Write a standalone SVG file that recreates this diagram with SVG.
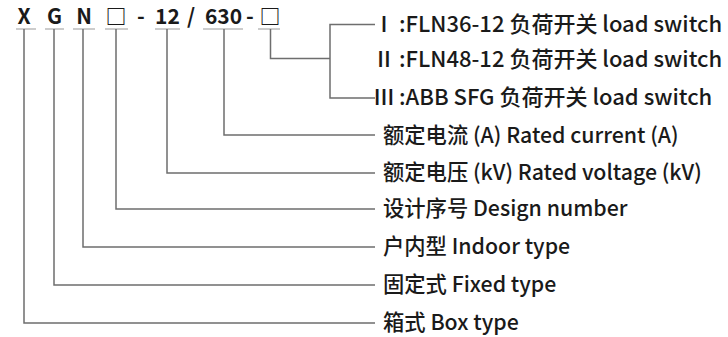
<svg xmlns="http://www.w3.org/2000/svg" width="728" height="337" viewBox="0 0 728 337">
<style>
.code{font-family:"Noto Sans CJK SC","Noto Sans",sans-serif;font-size:21px;font-weight:bold;fill:#1a1a1a;text-anchor:middle}
.lbl{font-family:"Noto Sans CJK SC","Noto Sans",sans-serif;font-size:22px;font-weight:500;fill:#1a1a1a}
.lb2{font-family:"Noto Sans CJK SC","Noto Sans",sans-serif;font-size:21.3px;font-weight:500;fill:#1a1a1a}
.ln{stroke:#6e6e6e;stroke-width:1.5;fill:none}
.ul{stroke:#9a9a9a;stroke-width:1.2;fill:none}
</style>
<rect width="728" height="337" fill="#ffffff"/>
<g id="code">
<text class="code" x="24" y="24">X</text>
<text class="code" x="54.5" y="24">G</text>
<text class="code" x="84" y="24">N</text>
<text class="code" x="116" y="24">□</text>
<text class="code" x="141" y="24">-</text>
<text class="code" x="167.5" y="24">12</text>
<text class="code" x="191" y="24">/</text>
<text class="code" x="223.5" y="24">630</text>
<text class="code" x="250" y="24">-</text>
<text class="code" x="270" y="24">□</text>
<path class="ul" d="M16 29H36M45 29H64M73 29H95M105 29H128M155 29H180M203 29H243M258 29H280"/>
</g>
<g id="connectors">
<path class="ln" d="M24 29V323H375"/>
<path class="ln" d="M54 29V285H375"/>
<path class="ln" d="M83 29V247H375"/>
<path class="ln" d="M116 29V209H375"/>
<path class="ln" d="M167 29V173H375"/>
<path class="ln" d="M224 29V135H375"/>
<path class="ln" d="M270.5 29V58.5H330"/>
<path class="ln" d="M375 24.5H330V98H375"/>
</g>
<g id="opt1"><text class="lbl" y="32"><tspan x="395" text-anchor="end">Ⅰ</tspan><tspan x="399">:FLN36-12 负荷开关 load switch</tspan></text></g>
<g id="opt2"><text class="lbl" y="67"><tspan x="395" text-anchor="end">Ⅱ</tspan><tspan x="399">:FLN48-12 负荷开关 load switch</tspan></text></g>
<g id="opt3"><text class="lbl" y="105"><tspan x="395" text-anchor="end">Ⅲ</tspan><tspan x="399">:ABB SFG 负荷开关 load switch</tspan></text></g>
<g id="current"><text class="lb2" x="383" y="143">额定电流 (A) Rated current (A)</text></g>
<g id="voltage"><text class="lb2" x="383" y="180">额定电压 (kV) Rated voltage (kV)</text></g>
<g id="design"><text class="lb2" x="383" y="216">设计序号 Design number</text></g>
<g id="indoor"><text class="lb2" x="383" y="254">户内型 Indoor type</text></g>
<g id="fixed"><text class="lb2" x="383" y="292">固定式 Fixed type</text></g>
<g id="box"><text class="lb2" x="383" y="330">箱式 Box type</text></g>
</svg>
